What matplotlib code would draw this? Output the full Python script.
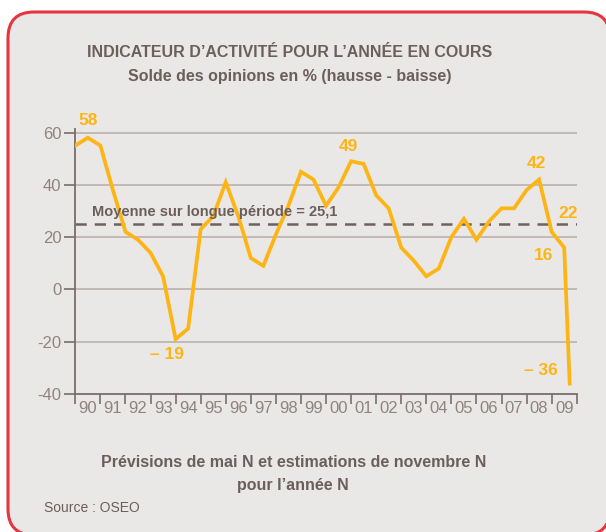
import matplotlib.pyplot as plt
import numpy as np
from matplotlib.patches import FancyBboxPatch
from matplotlib.transforms import IdentityTransform

# index 0 = start of 1990, two readings per year (mai / novembre)
x_pos = [0.0, 0.5, 1.0, 1.5, 2.0, 2.5, 3.0, 3.5, 4.0, 4.5,
         5.0, 5.5, 6.0, 6.5, 7.0, 7.5, 8.0, 8.5, 9.0, 9.5,
         10.0, 10.5, 11.0, 11.5, 12.0, 12.5, 13.0, 13.5, 14.0, 14.5,
         15.0, 15.5, 16.0, 16.5, 17.0, 17.5, 18.0, 18.5, 19.0, 19.5, 19.72]
solde = [55, 58, 55, 38, 22, 19, 14, 5, -19, -15,
         23, 28, 41, 28, 12, 9, 21, 32, 45, 42,
         32, 39, 49, 48, 36, 31, 16, 11, 5, 8,
         20, 27, 19, 26, 31, 31, 38, 42, 22, 16, -36]
years = ['90', '91', '92', '93', '94', '95', '96', '97', '98', '99',
         '00', '01', '02', '03', '04', '05', '06', '07', '08', '09']
moyenne = 25.1

# labels put on the curve: (text, x, y)
point_labels = [('58', 0.5, 64.5), ('\u2013 19', 3.64, -25), ('49', 10.88, 54.5),
                ('42', 18.4, 48.2), ('22', 19.66, 29.2), ('16', 18.69, 13),
                ('\u2013 36', 18.58, -31)]

bg = '#EAE8E6'
txt = '#6B5E5B'
tick_col = '#8F837E'
jaune = '#FDB515'
narrow = ['Liberation Sans', 'DejaVu Sans']

fig = plt.figure(figsize=(6.06, 5.32), dpi=100)
fig.patch.set_facecolor('white')

# rounded red frame (pixel coords)
frame = FancyBboxPatch((8, -3), 602, 523, boxstyle='round,pad=0,rounding_size=26',
                       transform=IdentityTransform(), facecolor=bg,
                       edgecolor='#E63440', linewidth=2.2, zorder=-5)
fig.patches.append(frame)

ax = fig.add_axes([0.1243, 0.2594, 0.8274, 0.4989])
ax.set_zorder(2)
ax.set_facecolor('none')

ax.plot(x_pos, solde, color=jaune, linewidth=2.7, solid_joinstyle='miter', zorder=3)
ax.axhline(moyenne, color='#6E6260', linewidth=1.8, dashes=(4.5, 3.2), zorder=2)
ax.text(0.65, 29.5, 'Moyenne sur longue période = 25,1', color=txt, fontsize=10.5,
        fontweight='bold', family=narrow, ha='left', va='center')

for lab, xx, yy in point_labels:
    ax.text(xx, yy, lab, color=jaune, fontsize=12.5, fontweight='bold', family=narrow,
            ha='center', va='center', clip_on=False)

ax.set_xlim(0, 20)
ax.set_ylim(-40, 61.5)
ax.set_yticks([-40, -20, 0, 20, 40, 60])
ax.set_yticklabels(['-40', '-20', '0', '20', '40', '60'])
for g in [-20, 0, 20, 40, 60]:
    ax.axhline(g, color='#B9ADA7', linewidth=1.1, zorder=1)

ax.set_xticks(np.arange(0, 21))
ax.set_xticklabels([])
ax.set_xticks(np.arange(0.5, 20), minor=True)
ax.set_xticklabels(years, minor=True)
ax.tick_params(axis='x', which='major', length=7, width=1.2, color='#7B6D68', direction='out')
ax.tick_params(axis='x', which='minor', length=0, pad=5, labelsize=12, labelcolor=tick_col)
ax.tick_params(axis='y', length=8, width=1.2, color='#7B6D68', pad=2, labelsize=12,
               labelcolor=tick_col)
for t in ax.get_xticklabels(minor=True) + ax.get_yticklabels():
    t.set_family(narrow)

for s in ['top', 'right']:
    ax.spines[s].set_visible(False)
for s in ['left', 'bottom']:
    ax.spines[s].set_color('#7B6D68')
    ax.spines[s].set_linewidth(1.3)

fig.text(0.478, 0.902, 'INDICATEUR D\u2019ACTIVITÉ POUR L\u2019ANNÉE EN COURS', color=txt,
         fontsize=11.5, fontweight='bold', family=narrow, ha='center', va='center')
fig.text(0.478, 0.857, 'Solde des opinions en % (hausse - baisse)', color=txt,
         fontsize=11.5, fontweight='bold', family=narrow, ha='center', va='center')
fig.text(0.484, 0.130, 'Prévisions de mai N et estimations de novembre N', color=txt,
         fontsize=11.5, fontweight='bold', family=narrow, ha='center', va='center')
fig.text(0.484, 0.088, 'pour l\u2019année N', color=txt,
         fontsize=11.5, fontweight='bold', family=narrow, ha='center', va='center')
fig.text(0.072, 0.045, 'Source : OSEO', color=txt, fontsize=10, family=narrow,
         ha='left', va='center')

fig.savefig('out.png', dpi=100, facecolor=fig.get_facecolor())
